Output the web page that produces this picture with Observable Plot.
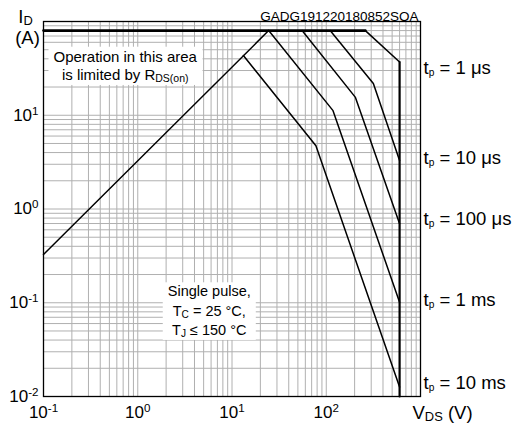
<!DOCTYPE html>
<html><head><meta charset="utf-8">
<script src="https://cdn.jsdelivr.net/npm/d3@7"></script>
<script src="https://cdn.jsdelivr.net/npm/@observablehq/plot@0.6"></script>
<style>
html,body{margin:0;padding:0;background:#fff;}
#chart svg{font-family:"Liberation Sans",Arial,sans-serif;}
</style></head><body><div id="chart"></div>
<script>
// ---- data (V in volts, I in amperes) ----
const xTicks = [0.1, 1, 10, 100];
const xTickLabels = ["10^{-1}", "10^{0}", "10^{1}", "10^{2}"];
const yTicks = [0.01, 0.1, 1, 10];
const yTickLabels = ["10^{-2}", "10^{-1}", "10^{0}", "10^{1}"];
const decades = [0.1, 1, 10, 100, 1000];
const gridMultipliers = [1, 2, 3, 4, 5, 6, 7, 8, 9];

const idMaxV = [0.1, 260];   const idMaxI = [80, 80];
const vdsMaxV = [600, 600];  const vdsMaxI = [37, 0.01];
const rdsV = [0.1, 24.5];    const rdsI = [0.327, 80];
const t1usV = [260, 600];           const t1usI = [80, 37];
const t10usV = [110, 316, 600];     const t10usI = [80, 21.8, 3.29];
const t100usV = [55.4, 204, 600];   const t100usI = [80, 15.5, 0.695];
const t1msV = [24.5, 118, 600];     const t1msI = [80, 11.2, 0.101];
const t10msV = [13.2, 77.7, 600];   const t10msI = [43.4, 4.72, 0.0126];

const pulseLabels = ["t_{p} = 1 μs", "t_{p} = 10 μs", "t_{p} = 100 μs", "t_{p} = 1 ms", "t_{p} = 10 ms"];
const pulseLabelI = [31.6, 3.46, 0.79, 0.106, 0.0138];
const pulseLabelV = 600;

const noteRds = "Operation in this area\nis limited by R_{DS(on)}";
const noteRdsAt = [0.736, 23.5];
const notePulse = "Single pulse,\nT_{C} = 25 °C,\nT_{J} ≤ 150 °C";
const notePulseAt = [5.74, 0.0448];
const docCode = "GADG191220180852SOA";
const yTitle = ["I_{D}", "(A)"];
const xTitle = "V_{DS} (V)";

// ---- build ----
const pts = (V, I) => V.map((v, k) => [v, I[k]]);
const gridV = decades.flatMap(d => d === 1000 ? [1000] : gridMultipliers.map(m => m * d));
const gridI = [0.01, 0.1, 1, 10, 100].flatMap(d => d === 100 ? [100] : gridMultipliers.map(m => m * d));
const thin = {x: d => d[0], y: d => d[1], stroke: "black", strokeWidth: 1.5};

const plot = Plot.plot({
  width: 519, height: 423,
  marginLeft: 43, marginRight: 99, marginTop: 21, marginBottom: 27,
  style: {background: "white", color: "black", fontSize: "16px", fontFamily: "'Liberation Sans', Arial, sans-serif"},
  x: {type: "log", domain: [0.1, 1000]},
  y: {type: "log", domain: [0.01, 100]},
  marks: [
    Plot.ruleX(gridV, {stroke: "#b0b0b0", strokeWidth: 1}),
    Plot.ruleY(gridI, {stroke: "#b0b0b0", strokeWidth: 1}),
    Plot.frame({stroke: "black", strokeWidth: 1.3}),
    Plot.axisX(xTicks, {tickSize: 0, tickPadding: 9, fontSize: 17, label: null,
      tickFormat: d => xTickLabels[xTicks.indexOf(d)]}),
    Plot.axisY(yTicks, {tickSize: 0, tickPadding: 5, fontSize: 17, label: null,
      tickFormat: d => yTickLabels[yTicks.indexOf(d)]}),
    Plot.line(pts(rdsV, rdsI), thin),
    Plot.line(pts(t1usV, t1usI), thin),
    Plot.line(pts(t10usV, t10usI), thin),
    Plot.line(pts(t100usV, t100usI), thin),
    Plot.line(pts(t1msV, t1msI), thin),
    Plot.line(pts(t10msV, t10msI), thin),
    Plot.line(pts(idMaxV, idMaxI), {...thin, strokeWidth: 2.6}),
    Plot.line(pts(vdsMaxV, vdsMaxI), {...thin, strokeWidth: 2.2}),
    Plot.text(pulseLabels, {x: () => pulseLabelV, y: (d, i) => pulseLabelI[i], text: d => d,
      textAnchor: "start", dx: 24, fontSize: 18.5, fill: "black"}),
    Plot.text([noteRds], {x: () => noteRdsAt[0], y: () => noteRdsAt[1], text: d => d,
      textAnchor: "middle", lineAnchor: "bottom", lineHeight: 1.25, fontSize: 15, fill: "black", className: "note"}),
    Plot.text([notePulse], {x: () => notePulseAt[0], y: () => notePulseAt[1], text: d => d,
      textAnchor: "middle", lineAnchor: "bottom", lineHeight: 1.35, fontSize: 14.5, fill: "black", className: "note"}),
    Plot.text([docCode], {x: () => 1000, y: () => 100, text: d => d, textAnchor: "end",
      lineAnchor: "bottom", dx: -2, dy: -1, fontSize: 13.5, fill: "black"}),
    Plot.text([yTitle[0]], {x: () => 0.1, y: () => 100, text: d => d, textAnchor: "middle",
      lineAnchor: "bottom", dx: -18, dy: 1, fontSize: 18.5, fill: "black"}),
    Plot.text([yTitle[1]], {x: () => 0.1, y: () => 100, text: d => d, textAnchor: "middle",
      lineAnchor: "bottom", dx: -16, dy: 22, fontSize: 18.5, fill: "black"}),
    Plot.text([xTitle], {x: () => 1000, y: () => 0.01, text: d => d, textAnchor: "start",
      lineAnchor: "bottom", dx: -8, dy: 22, fontSize: 18.5, fill: "black"})
  ]
});
document.getElementById("chart").appendChild(plot);

// ---- rich text: sub/superscripts ----
const NS = "http://www.w3.org/2000/svg";
plot.querySelectorAll("text, tspan").forEach(el => {
  if (el.children.length || !/[_^]\{/.test(el.textContent)) return;
  const fs = parseFloat(getComputedStyle(el).fontSize);
  const s = el.textContent;
  el.textContent = "";
  const re = /([_^])\{([^}]*)\}/g;
  let last = 0, m;
  while ((m = re.exec(s))) {
    if (m.index > last) el.appendChild(document.createTextNode(s.slice(last, m.index)));
    const t = document.createElementNS(NS, "tspan");
    if (m[1] === "_") {
      t.setAttribute("font-size", (fs * (m[2] === "p" ? 0.55 : 0.7)).toFixed(1));
      t.setAttribute("baseline-shift", (-fs * 0.1).toFixed(1));
    } else {
      t.setAttribute("font-size", (fs * 0.68).toFixed(1));
      t.setAttribute("baseline-shift", (fs * 0.38).toFixed(1));
    }
    t.textContent = m[2];
    el.appendChild(t);
    last = re.lastIndex;
  }
  if (last < s.length) el.appendChild(document.createTextNode(s.slice(last)));
});

// ---- white boxes behind notes ----
plot.querySelectorAll("g.note text").forEach(t => {
  const b = t.getBBox();
  const tr = t.getAttribute("transform") || "";
  const r = document.createElementNS(NS, "rect");
  r.setAttribute("x", b.x - 5); r.setAttribute("y", b.y - 1);
  r.setAttribute("width", b.width + 10); r.setAttribute("height", b.height + 2);
  r.setAttribute("fill", "white");
  r.setAttribute("transform", tr);
  t.parentNode.insertBefore(r, t);
});
</script></body></html>
